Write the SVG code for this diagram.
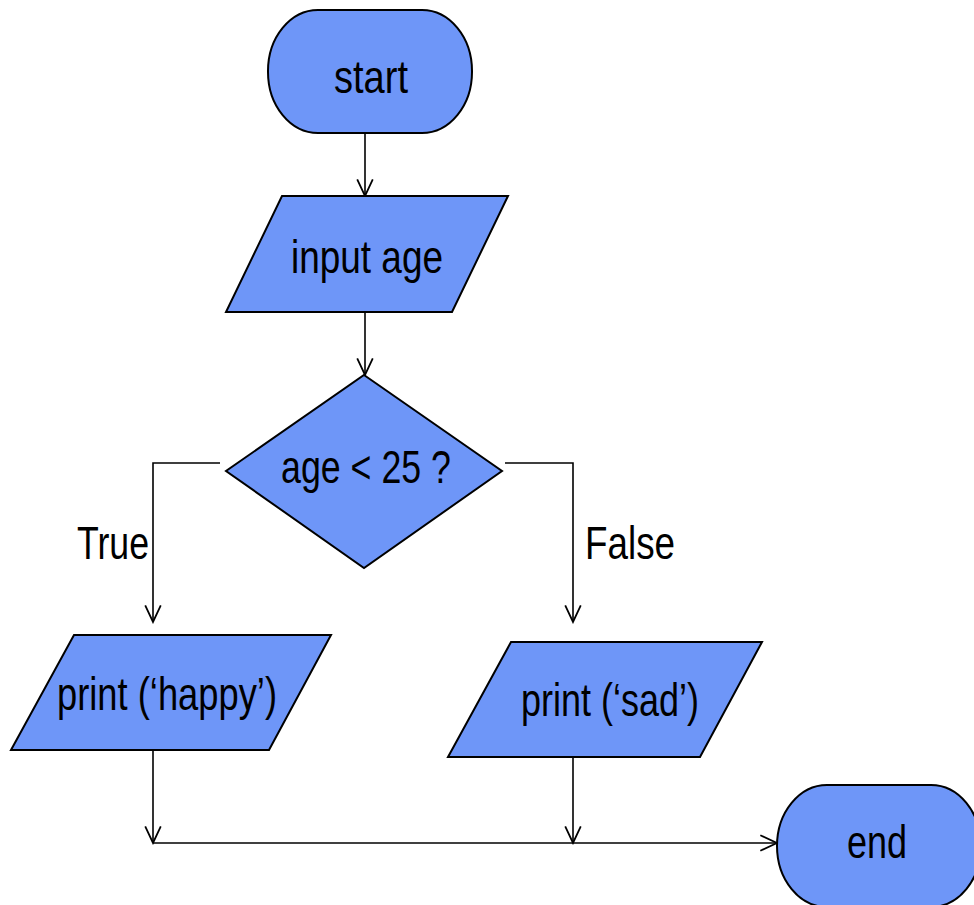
<svg xmlns="http://www.w3.org/2000/svg" width="974" height="905" viewBox="0 0 974 905">
<defs>
<style>
.shape{fill:#6E96F8;stroke:#000;stroke-width:2;}
.lbl{font-family:"Liberation Sans",Arial,sans-serif;font-size:46px;fill:#000;text-anchor:middle;}
.edge{fill:none;stroke:#000;stroke-width:1.6;}
</style>
<marker id="arr" markerUnits="userSpaceOnUse" markerWidth="20" markerHeight="20" viewBox="-16 -9 18 18" refX="0" refY="0" orient="auto">
<path d="M-15,-7 L0,0 L-15,7" fill="none" stroke="#000" stroke-width="1.6"/>
</marker>
</defs>
<rect width="974" height="905" fill="#fff"/>
<g id="connectors">
<path class="edge" d="M365,133 V196" marker-end="url(#arr)"/>
<path class="edge" d="M365,312 V375" marker-end="url(#arr)"/>
<path class="edge" d="M220,463 H153 V622" marker-end="url(#arr)"/>
<path class="edge" d="M505,463 H573 V622" marker-end="url(#arr)"/>
<path class="edge" d="M153,750 V843" marker-end="url(#arr)"/>
<path class="edge" d="M573,757 V843" marker-end="url(#arr)"/>
<path class="edge" d="M153,843 H777" marker-end="url(#arr)"/>
<text class="lbl" x="113" y="559" textLength="72" lengthAdjust="spacingAndGlyphs">True</text>
<text class="lbl" x="630" y="559" textLength="90" lengthAdjust="spacingAndGlyphs">False</text>
</g>
<g id="start">
<rect class="shape" x="268" y="10" width="204" height="123" rx="50" ry="61"/>
<text class="lbl" x="371" y="93" textLength="74" lengthAdjust="spacingAndGlyphs">start</text>
</g>
<g id="input">
<polygon class="shape" points="282,196 508,196 452,312 226,312"/>
<text class="lbl" x="367" y="273" textLength="152" lengthAdjust="spacingAndGlyphs">input age</text>
</g>
<g id="decision">
<polygon class="shape" points="364,375 502,471 364,568 226,471"/>
<text class="lbl" x="366" y="483" textLength="170" lengthAdjust="spacingAndGlyphs">age &lt; 25 ?</text>
</g>
<g id="happy">
<polygon class="shape" points="74,635 331,635 269,750 11,750"/>
<text class="lbl" x="167" y="710" textLength="220" lengthAdjust="spacingAndGlyphs">print (‘happy’)</text>
</g>
<g id="sad">
<polygon class="shape" points="511,642 762,642 700,757 448,757"/>
<text class="lbl" x="610" y="716" textLength="178" lengthAdjust="spacingAndGlyphs">print (‘sad’)</text>
</g>
<g id="end">
<rect class="shape" x="777" y="785" width="204" height="122" rx="50" ry="61"/>
<text class="lbl" x="877" y="858" textLength="60" lengthAdjust="spacingAndGlyphs">end</text>
</g>
</svg>
